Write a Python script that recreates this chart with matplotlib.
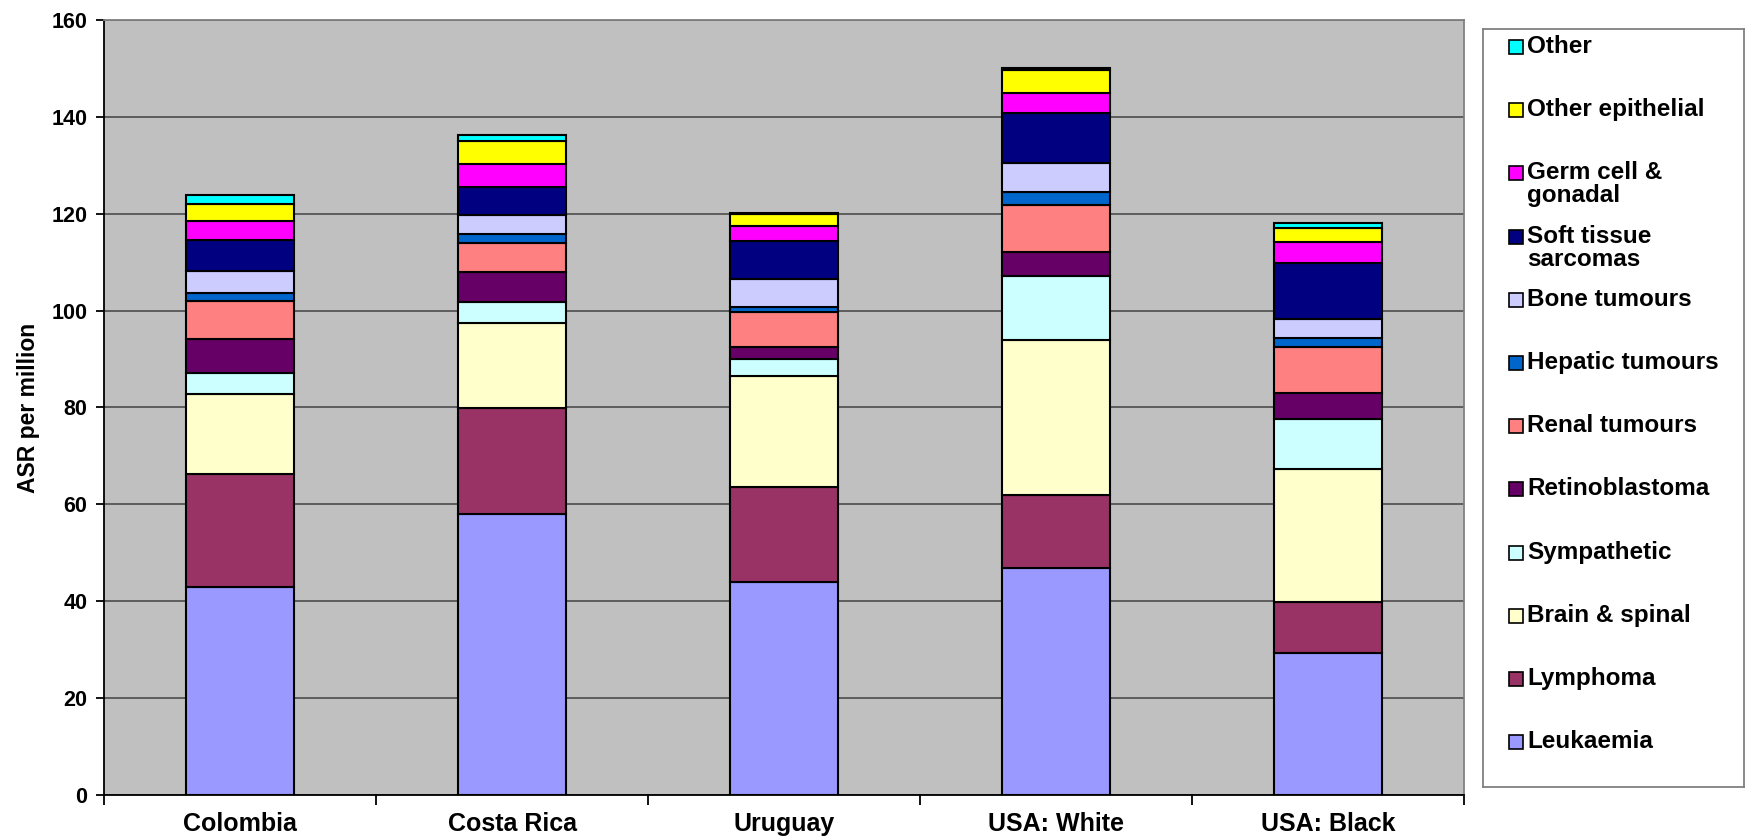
import numpy as np
import matplotlib.pyplot as plt
from matplotlib.patches import Rectangle

plt.rcParams['font.family'] = ['Liberation Sans', 'DejaVu Sans']
plt.rcParams['font.weight'] = 'bold'

COUNTRIES = ["Colombia", "Costa Rica", "Uruguay", "USA: White", "USA: Black"]

# ASR per million, one list per diagnostic group (same order as COUNTRIES)
leukaemia = [42.9, 58.0, 43.9, 46.8, 29.4]
lymphoma = [23.3, 21.8, 19.7, 15.1, 10.5]
brain_spinal = [16.6, 17.6, 22.9, 32.0, 27.5]
sympathetic = [4.3, 4.4, 3.6, 13.2, 10.2]
retinoblastoma = [7.0, 6.2, 2.4, 4.9, 5.3]
renal = [7.9, 6.0, 7.3, 9.9, 9.5]
hepatic = [1.7, 1.8, 1.0, 2.6, 2.0]
bone = [4.5, 3.9, 5.7, 6.0, 3.8]
soft_tissue = [6.4, 5.9, 7.9, 10.4, 11.6]
germ_cell = [3.9, 4.7, 3.0, 4.1, 4.4]
other_epithelial = [3.6, 4.8, 2.5, 4.7, 2.8]
other = [1.8, 1.2, 0.3, 0.3, 1.0]

SERIES = [
    ("Leukaemia", leukaemia, "#9999FF"),
    ("Lymphoma", lymphoma, "#993366"),
    ("Brain & spinal", brain_spinal, "#FFFFCC"),
    ("Sympathetic", sympathetic, "#CCFFFF"),
    ("Retinoblastoma", retinoblastoma, "#660066"),
    ("Renal tumours", renal, "#FF8080"),
    ("Hepatic tumours", hepatic, "#0066CC"),
    ("Bone tumours", bone, "#CCCCFF"),
    ("Soft tissue\nsarcomas", soft_tissue, "#000080"),
    ("Germ cell &\ngonadal", germ_cell, "#FF00FF"),
    ("Other epithelial", other_epithelial, "#FFFF00"),
    ("Other", other, "#00FFFF"),
]

W, H = 1746, 840

fig = plt.figure(figsize=(W / 100, H / 100), dpi=100)
ax = fig.add_axes([104 / W, 1 - 795 / H, (1464 - 104) / W, (795 - 20) / H])
ax.set_facecolor("#C0C0C0")

x_pos = np.arange(len(COUNTRIES))
bottom = np.zeros(len(COUNTRIES))
for label, values, color in SERIES:
    values = np.array(values)
    ax.bar(x_pos, values, bottom=bottom, width=0.4, color=color,
           edgecolor="black", linewidth=1.5, zorder=3)
    bottom += values

ax.set_xlim(-0.5, len(COUNTRIES) - 0.5)
ax.set_ylim(0, 160)
ax.set_yticks(np.arange(0, 161, 20))
ax.yaxis.grid(True, color="#555555", linewidth=1.3, zorder=0)
ax.tick_params(axis="y", labelsize=15.5, length=6, width=1.3, pad=6)

# category labels in the middle, tick marks between the categories
ax.set_xticks(x_pos)
ax.set_xticklabels(COUNTRIES)
ax.tick_params(axis="x", which="major", length=0, labelsize=18, pad=12)
ax.set_xticks(np.arange(-0.5, len(COUNTRIES)), minor=True)
ax.tick_params(axis="x", which="minor", length=7, width=1.3)

ax.set_ylabel("ASR per million", fontsize=16.5, fontweight="bold", labelpad=8)

for side in ("left", "bottom"):
    ax.spines[side].set_color("black")
    ax.spines[side].set_linewidth(1.3)
for side in ("top", "right"):
    ax.spines[side].set_color("#808080")
    ax.spines[side].set_linewidth(1.3)

# legend box with one fixed slot per group, top entry = top of the stack
lax = fig.add_axes([1483 / W, 1 - 787 / H, (1744 - 1483) / W, (787 - 29) / H])
lax.set_xlim(0, 1744 - 1483)
lax.set_ylim(787, 29)
lax.set_xticks([])
lax.set_yticks([])
for s in lax.spines.values():
    s.set_color("#808080")
    s.set_linewidth(1.3)

first_y = 47
pitch = 63.2
for i, (label, values, color) in enumerate(reversed(SERIES)):
    y = first_y + i * pitch
    lax.add_patch(Rectangle((26, y - 7), 14, 14, facecolor=color,
                            edgecolor="black", linewidth=1.2))
    lax.text(44, y - 12, label, fontsize=17.5, va="top", ha="left",
             linespacing=1.0)

plt.savefig("out.png", dpi=100)
print("done")
